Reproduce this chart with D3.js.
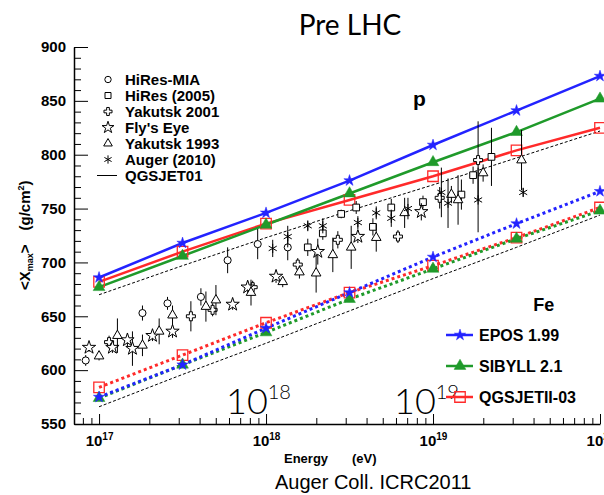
<!DOCTYPE html>
<html>
<head>
<meta charset="utf-8">
<script src="https://cdn.jsdelivr.net/npm/d3@7"></script>
<style>
  body { margin: 0; background: #fff; }
  svg { display: block; font-family: "Liberation Sans", Arial, sans-serif; }
</style>
</head>
<body>
<div id="chart"></div>
<script>
// ── Data (log10 of energy in eV, <Xmax> in g/cm2) ──────────────────────────
const Y_TICKS = [550, 600, 650, 700, 750, 800, 850, 900];
const X_TICK_EXP = [17, 18, 19, 20];

const MODEL_LG = [17, 17.5, 18, 18.5, 19, 19.5, 20];
const EPOS_P = [686, 718, 746, 776, 809, 841, 873];
const SIBYLL_P = [677, 706, 735, 764, 793, 821, 852];
const QGSII_P = [682, 710, 736, 758, 780, 804, 825];
const EPOS_FE = [575, 605, 639, 672, 705, 736, 766];
const SIBYLL_FE = [574, 605, 635, 666, 694, 722, 748];
const QGSII_FE = [584, 614, 644, 672, 697, 723, 751];
const QGS01_P = [670, 697, 723, 748, 772, 797, 822];
const QGS01_FE = [566, 596, 625, 655, 685, 714, 744];

const HIRESMIA_LG = [16.92, 17.26, 17.41, 17.61, 17.77, 17.95, 18.13];
const HIRESMIA_X = [609, 653, 662, 668, 702, 717, 714];
const HIRESMIA_ERR = [5, 7, 6, 8, 12, 14, 12];

const HIRES_LG = [18.25, 18.34, 18.45, 18.54, 18.64, 18.75, 18.94, 19.17, 19.24, 19.35];
const HIRES_X = [714, 727, 745, 751, 733, 751, 756, 763, 781, 798];
const HIRES_ERR = [8, 6, 4, 6, 8, 8, 6, 14, 8, 27];

const YAK01_LG = [17.06, 17.55, 17.68, 17.92, 18.19, 18.43, 18.79, 19.04, 19.27];
const YAK01_X = [626, 650, 656, 677, 698, 721, 724, 760, 795];
const YAK01_ERR = [6, 14, 6, 6, 6, 8, 6, 10, 36];

const FLYS_LG = [16.94, 17.08, 17.17, 17.2, 17.32, 17.44, 17.8, 17.89, 18.06, 18.31, 18.55, 18.93];
const FLYS_X = [621, 621, 628, 620, 632, 636, 661, 677, 687, 710, 724, 747];
const FLYS_ERR = [4, 5, 6, 16, 5, 6, 5, 6, 6, 12, 6, 8];

const YAK93_LG = [17.0, 17.11, 17.26, 17.36, 17.44, 17.64, 17.7, 17.91, 18.1, 18.2, 18.3, 18.4, 18.51, 18.66, 18.83, 19.11, 19.15, 19.3, 19.53];
const YAK93_X = [613, 632, 623, 636, 651, 659, 665, 672, 682, 691, 690, 707, 714, 723, 746, 763, 758, 783, 795];
const YAK93_ERR = [4, 16, 10, 12, 9, 14, 14, 12, 5, 6, 18, 16, 20, 13, 14, 8, 23, 8, 28];

const AUGER_LG = [18.04, 18.13, 18.25, 18.34, 18.55, 18.66, 18.75, 18.85, 19.05, 19.09, 19.27, 19.54];
const AUGER_X = [713, 724, 734, 734, 737, 746, 741, 750, 765, 755, 758, 765];
const AUGER_ERR = [8, 10, 5, 7, 6, 6, 8, 10, 23, 23, 30, 4];

// ── Layout ─────────────────────────────────────────────────────────────────
const W = 604, H = 495;
const margin = { top: 47, left: 74 };
const width = 526, height = 377;

const svg = d3.select("#chart").append("svg")
    .attr("width", W).attr("height", H);

const g = svg.append("g")
    .attr("transform", `translate(${margin.left},${margin.top})`);

// ── Scales ─────────────────────────────────────────────────────────────────
const E = lg => Math.pow(10, lg);
const x = d3.scaleLog().domain([E(16.85), E(20)]).range([0, width]);
const y = d3.scaleLinear().domain([550, 900]).range([height, 0]);

// ── Axes ───────────────────────────────────────────────────────────────────
const yMinor = d3.range(550, 901, 10).filter(v => v % 50 !== 0);
const yMinorAxis = g.append("g")
    .call(d3.axisLeft(y).tickValues(yMinor).tickSize(-7).tickFormat(""));
yMinorAxis.select(".domain").remove();

const yAxis = g.append("g")
    .call(d3.axisLeft(y).tickValues(Y_TICKS).tickSize(-14).tickSizeOuter(0)
        .tickPadding(8).tickFormat(d3.format("d")));
yAxis.selectAll("text")
    .attr("font-size", "15px").attr("font-weight", "bold").attr("fill", "#000");

const xMinor = [];
[16, 17, 18, 19].forEach(n => d3.range(2, 10).forEach(k => {
    const v = k * E(n);
    if (v >= E(16.85) && v <= E(20)) xMinor.push(v);
}));
const xMinorAxis = g.append("g")
    .attr("transform", `translate(0,${height})`)
    .call(d3.axisBottom(x).tickValues(xMinor).tickSize(-6).tickFormat(""));
xMinorAxis.select(".domain").remove();

const xAxis = g.append("g")
    .attr("transform", `translate(0,${height})`)
    .call(d3.axisBottom(x).tickValues(X_TICK_EXP.map(E)).tickSize(-10)
        .tickSizeOuter(0).tickFormat(""));
xAxis.selectAll(".tick text").each(function (d, i) {
    const t = d3.select(this)
        .attr("y", 22).attr("dy", null)
        .attr("font-size", "15px").attr("font-weight", "bold")
        .attr("fill", "#000").attr("text-anchor", "middle");
    t.append("tspan").text("10");
    t.append("tspan").attr("dy", -6).attr("font-size", "10px").text(X_TICK_EXP[i]);
});
g.selectAll(".domain").attr("stroke-width", 1.5);

// ── Axis titles ────────────────────────────────────────────────────────────
const yTitle = svg.append("text")
    .attr("transform", "translate(30,290) rotate(-90)")
    .attr("font-size", "15px").attr("font-weight", "bold");
yTitle.append("tspan").text("<X");
yTitle.append("tspan").attr("font-size", "9px").attr("dy", 3).text("max");
yTitle.append("tspan").attr("dy", -3).text(">");
yTitle.append("tspan").attr("dx", 14).text("(g/cm");
yTitle.append("tspan").attr("font-size", "9px").attr("dy", -6).text("2");
yTitle.append("tspan").attr("dy", 6).text(")");

svg.append("text").attr("x", 284).attr("y", 463)
    .attr("font-size", "13px").attr("font-weight", "bold").text("Energy");
svg.append("text").attr("x", 352).attr("y", 463)
    .attr("font-size", "13px").attr("font-weight", "bold").text("(eV)");

svg.append("text").attr("x", 275).attr("y", 489)
    .attr("font-size", "20px").text("Auger Coll. ICRC2011");

svg.append("text").attr("x", 350).attr("y", 35)
    .attr("text-anchor", "middle")
    .attr("font-family", "Lato, 'Noto Sans', sans-serif")
    .attr("font-size", "28px").text("Pre LHC");

// Big energy markers drawn inside the frame
[[226, "18"], [394, "19"]].forEach(([px, ex]) => {
    const t = svg.append("text").attr("x", px).attr("y", 414)
        .attr("font-family", "Lato, 'Noto Sans', sans-serif")
        .attr("font-weight", 300).attr("font-size", "36px");
    t.append("tspan").text("10");
    t.append("tspan").attr("dy", -15).attr("font-size", "20px").text(ex);
});

g.append("text").attr("x", x(E(18.88))).attr("y", y(845))
    .attr("font-size", "21px").attr("font-weight", "bold").text("p");
g.append("text").attr("x", x(E(19.6))).attr("y", y(655))
    .attr("font-size", "18px").attr("font-weight", "bold").text("Fe");

// ── Model curves ───────────────────────────────────────────────────────────
const line = d3.line().x(d => x(E(d.lg))).y(d => y(d.v));
const toPts = vals => MODEL_LG.map((lg, i) => ({ lg, v: vals[i] }));

const BLUE = "#2323ff", GREEN = "#1f9a2a", RED = "#ff2a2a";

[QGS01_P, QGS01_FE].forEach(vals => {
    g.append("path").datum(toPts(vals))
        .attr("fill", "none").attr("stroke", "#000")
        .attr("stroke-width", 1).attr("stroke-dasharray", "3,2")
        .attr("d", line);
});

const models = [
    { p: QGSII_P, fe: QGSII_FE, color: RED, type: d3.symbolSquare, size: 110, open: true },
    { p: SIBYLL_P, fe: SIBYLL_FE, color: GREEN, type: d3.symbolTriangle, size: 60, open: false },
    { p: EPOS_P, fe: EPOS_FE, color: BLUE, type: d3.symbolStar, size: 40, open: false },
];
// dotted iron curves first so that the proton lines sit on top
models.forEach(m => {
    g.append("path").datum(toPts(m.fe))
        .attr("fill", "none").attr("stroke", m.color)
        .attr("stroke-width", 3).attr("stroke-dasharray", "3,3")
        .attr("d", line);
});
models.forEach(m => {
    g.append("path").datum(toPts(m.p))
        .attr("fill", "none").attr("stroke", m.color)
        .attr("stroke-width", 2.5).attr("d", line);
});
models.forEach(m => {
    [m.p, m.fe].forEach(vals => {
        g.selectAll(null).data(toPts(vals)).join("path")
            .attr("transform", d => `translate(${x(E(d.lg))},${y(d.v)})`)
            .attr("d", d3.symbol().type(m.type).size(m.size))
            .attr("fill", m.open ? "none" : m.color)
            .attr("stroke", m.color).attr("stroke-width", m.open ? 1.3 : 0.5);
    });
});

// ── Measurements ───────────────────────────────────────────────────────────
const datasets = [
    { name: "HiRes-MIA", lg: HIRESMIA_LG, v: HIRESMIA_X, err: HIRESMIA_ERR, type: d3.symbolCircle, size: 40 },
    { name: "HiRes (2005)", lg: HIRES_LG, v: HIRES_X, err: HIRES_ERR, type: d3.symbolSquare, size: 45 },
    { name: "Yakutsk 2001", lg: YAK01_LG, v: YAK01_X, err: YAK01_ERR, type: d3.symbolCross, size: 45 },
    { name: "Fly's Eye", lg: FLYS_LG, v: FLYS_X, err: FLYS_ERR, type: d3.symbolStar, size: 55 },
    { name: "Yakutsk 1993", lg: YAK93_LG, v: YAK93_X, err: YAK93_ERR, type: d3.symbolTriangle, size: 40 },
    { name: "Auger (2010)", lg: AUGER_LG, v: AUGER_X, err: AUGER_ERR, type: d3.symbolAsterisk, size: 60 },
];

datasets.forEach(ds => {
    const pts = ds.lg.map((lg, i) => ({ lg, v: ds.v[i], e: ds.err[i] }));
    g.selectAll(null).data(pts).join("line")
        .attr("x1", d => x(E(d.lg))).attr("x2", d => x(E(d.lg)))
        .attr("y1", d => y(d.v - d.e)).attr("y2", d => y(d.v + d.e))
        .attr("stroke", "#000").attr("stroke-width", 1);
    g.selectAll(null).data(pts).join("path")
        .attr("transform", d => `translate(${x(E(d.lg))},${y(d.v)})`)
        .attr("d", d3.symbol().type(ds.type).size(ds.size))
        .attr("fill", ds.type === d3.symbolAsterisk ? "none" : "#fff")
        .attr("stroke", "#000").attr("stroke-width", 1);
});

// ── Legends ────────────────────────────────────────────────────────────────
const leg = svg.append("g");
datasets.forEach((ds, i) => {
    const cy = 79.5 + i * 16;
    leg.append("path")
        .attr("transform", `translate(108,${cy})`)
        .attr("d", d3.symbol().type(ds.type).size(ds.size * 0.8))
        .attr("fill", "none").attr("stroke", "#000").attr("stroke-width", 1);
    leg.append("text").attr("x", 125).attr("y", cy + 5)
        .attr("font-size", "15px").attr("font-weight", "bold").text(ds.name);
});
leg.append("line").attr("x1", 97).attr("x2", 117)
    .attr("y1", 175.5).attr("y2", 175.5).attr("stroke", "#000");
leg.append("text").attr("x", 125).attr("y", 180.5)
    .attr("font-size", "15px").attr("font-weight", "bold").text("QGSJET01");

const modelNames = ["EPOS 1.99", "SIBYLL 2.1", "QGSJETII-03"];
[models[2], models[1], models[0]].forEach((m, i) => {
    const cy = 335 + i * 31;
    leg.append("line").attr("x1", 446).attr("x2", 473)
        .attr("y1", cy).attr("y2", cy)
        .attr("stroke", m.color).attr("stroke-width", 2.5);
    leg.append("path").attr("transform", `translate(460,${cy})`)
        .attr("d", d3.symbol().type(m.type).size(m.size))
        .attr("fill", m.open ? "none" : m.color)
        .attr("stroke", m.color).attr("stroke-width", m.open ? 1.3 : 0.5);
    leg.append("text").attr("x", 479).attr("y", cy + 6)
        .attr("font-size", "16px").attr("font-weight", "bold").text(modelNames[i]);
});
</script>
</body>
</html>
